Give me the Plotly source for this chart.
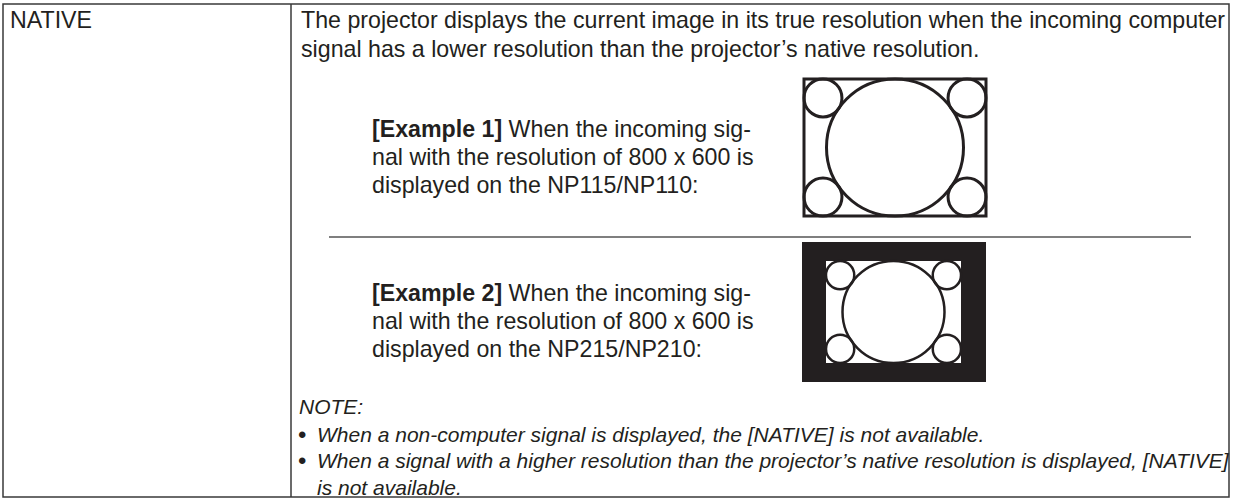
import plotly.graph_objects as go

# ---------------- content ----------------
row_label = "NATIVE"
desc_lines = [
    "The projector displays the current image in its true resolution when the incoming computer",
    "signal has a lower resolution than the projector\u2019s native resolution.",
]
example_tags = ["[Example 1]", "[Example 2]"]
example_lines = [
    ["When the incoming sig-", "nal with the resolution of 800 x 600 is", "displayed on the NP115/NP110:"],
    ["When the incoming sig-", "nal with the resolution of 800 x 600 is", "displayed on the NP215/NP210:"],
]
note_title = "NOTE:"
note_items = [
    ["When a non-computer signal is displayed, the [NATIVE] is not available."],
    ["When a signal with a higher resolution than the projector\u2019s native resolution is displayed, [NATIVE]",
     "is not available."],
]

# ---------------- layout constants ----------------
W, H = 1239, 499
INK = "#231f20"
BORDER = "#3a3a3a"
MAIN_FONT = "Liberation Sans, Arial, Helvetica, sans-serif"
NOTE_FONT = "Liberation Sans, Arial, Helvetica, sans-serif"
FS = 23.2
NFS = 21

fig = go.Figure()
shapes = []
annotations = []

def txt(x, y, text, size=FS, family=MAIN_FONT, style="normal"):
    annotations.append(dict(
        x=x, y=y, xref="x", yref="y", text=text, showarrow=False,
        xanchor="left", yanchor="middle", align="left",
        font=dict(family=family, size=size, color=INK, style=style),
    ))

# table frame
tbl = dict(x0=3, y0=4, x1=1229, y1=497)
shapes.append(dict(type="rect", xref="x", yref="y", x0=tbl["x0"], y0=tbl["y0"], x1=tbl["x1"], y1=tbl["y1"],
                   line=dict(color=BORDER, width=1.5)))
shapes.append(dict(type="line", xref="x", yref="y", x0=291, x1=291, y0=tbl["y0"], y1=tbl["y1"],
                   line=dict(color=BORDER, width=1.5)))

# label
txt(8, 20, row_label)
# description
for i, line in enumerate(desc_lines):
    txt(299, 20 + i * 28.5, line)

# examples
ex_y0 = [128.5, 292.5]
for k in range(2):
    for i, line in enumerate(example_lines[k]):
        t = ("<b>%s</b> %s" % (example_tags[k], line)) if i == 0 else line
        txt(370, ex_y0[k] + i * 28.3, t)

# separator
shapes.append(dict(type="line", xref="x", yref="y", x0=329, x1=1191, y0=237, y1=237,
                   line=dict(color="#555555", width=1.5)))

# picture: big circle + four corner circles inside a 4:3 area
def picture(x0, y0, x1, y1, lw):
    h = y1 - y0
    cx = (x0 + x1) / 2
    d = h * 0.277
    out = []
    out.append(dict(type="circle", xref="x", yref="y", x0=cx - h / 2, x1=cx + h / 2, y0=y0, y1=y1,
                    line=dict(color=INK, width=lw)))
    for (ax, ay) in [(x0, y0), (x1 - d, y0), (x0, y1 - d), (x1 - d, y1 - d)]:
        out.append(dict(type="circle", xref="x", yref="y", x0=ax, x1=ax + d, y0=ay, y1=ay + d,
                        line=dict(color=INK, width=lw)))
    return out

d1 = (804, 79, 986, 216)
shapes.append(dict(type="rect", xref="x", yref="y", x0=d1[0], y0=d1[1], x1=d1[2], y1=d1[3],
                   fillcolor="white", line=dict(color=INK, width=3)))
shapes += picture(*d1, 3)

d2o = (802, 242, 986, 382)
d2i = (826, 261, 961, 363)
shapes.append(dict(type="rect", xref="x", yref="y", x0=d2o[0], y0=d2o[1], x1=d2o[2], y1=d2o[3],
                   fillcolor=INK, line=dict(width=0)))
shapes.append(dict(type="rect", xref="x", yref="y", x0=d2i[0], y0=d2i[1], x1=d2i[2], y1=d2i[3],
                   fillcolor="white", line=dict(width=0)))
shapes += picture(*d2i, 2.5)

# notes
txt(297, 406, note_title, size=NFS, family=NOTE_FONT, style="italic")
ny = 434
for item in note_items:
    for j, line in enumerate(item):
        if j == 0:
            txt(296, ny, "\u2022", size=NFS + 3, family=NOTE_FONT)
        txt(315, ny, line, size=NFS, family=NOTE_FONT, style="italic")
        ny += 26.5

fig.update_layout(
    width=W, height=H, autosize=False,
    margin=dict(l=0, r=0, t=0, b=0, pad=0),
    paper_bgcolor="white", plot_bgcolor="white",
    xaxis=dict(range=[0, W], visible=False, fixedrange=True),
    yaxis=dict(range=[H, 0], visible=False, fixedrange=True),
    shapes=shapes, annotations=annotations, showlegend=False,
)
fig.write_html(
    "out.html",
    config={"displayModeBar": False},
    post_script="document.body.style.margin='0';document.body.style.overflow='hidden';",
)
